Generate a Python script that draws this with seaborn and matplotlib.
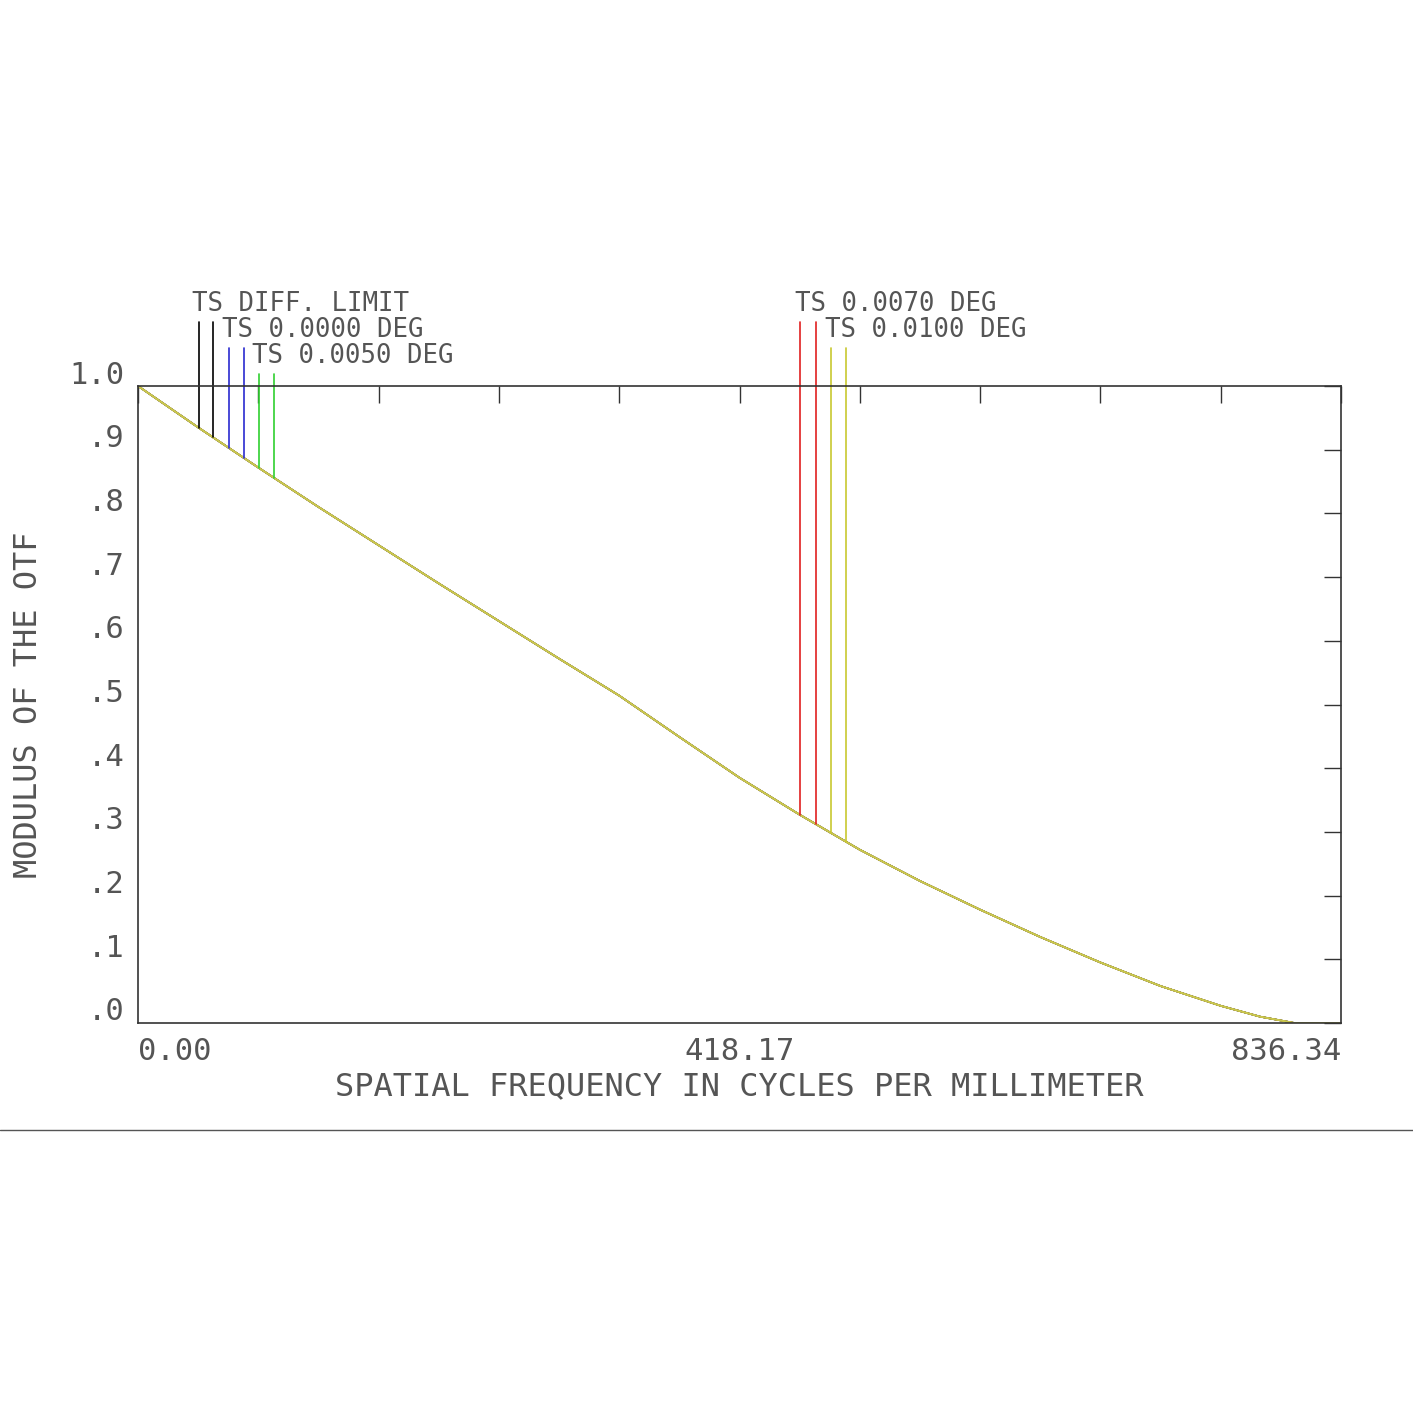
import numpy as np
import pandas as pd
import seaborn as sns
import matplotlib.pyplot as plt
import matplotlib.transforms as mtransforms
from matplotlib.lines import Line2D

# MTF curve (all fields overlap)
freq = [0.0, 41.8, 83.6, 125.5, 167.3, 209.1, 250.9, 292.7, 334.5, 376.4, 418.2,
        460.0, 501.8, 543.6, 585.4, 627.3, 669.1, 710.9, 752.7, 780.0, 804.0, 836.34]
mtf = [1.0, 0.935, 0.872, 0.810, 0.750, 0.690, 0.631, 0.572, 0.514, 0.449, 0.385,
       0.327, 0.272, 0.223, 0.178, 0.135, 0.095, 0.058, 0.027, 0.010, 0.0, 0.0]

series = ['DIFF', '0.0000', '0.0050', '0.0070', '0.0100']
colors = ['black', '#2b2bd0', '#30d030', '#e02020', '#c8c830']
# marker line pairs (frequency) for each series
markers = [(42.4, 52.1), (63.3, 73.7), (84.1, 94.5), (460.2, 471.4), (481.8, 492.3)]
marker_top = [1.100, 1.060, 1.019, 1.100, 1.060]

labels = ['TS DIFF. LIMIT', 'TS 0.0000 DEG', 'TS 0.0050 DEG', 'TS 0.0070 DEG', 'TS 0.0100 DEG']
label_x = [192, 222, 252, 795, 825]
label_y = [304, 330, 356, 304, 330]

sns.set_style('white')
plt.rcParams['font.family'] = ['DejaVu Sans Mono']
txt = '#555555'

fig = plt.figure(figsize=(14.13, 14.13), dpi=100)
ax = fig.add_axes([138 / 1413, 1 - 1023 / 1413, 1203 / 1413, 637 / 1413])

df = pd.DataFrame({'freq': freq, 'mtf': mtf})
for c in colors:
    sns.lineplot(data=df, x='freq', y='mtf', color=c, lw=1.2, ax=ax)
sns.lineplot(data=df, x='freq', y='mtf', color='#c8c850', lw=1.3, ax=ax)

for (f1, f2), top, c in zip(markers, marker_top, colors):
    for f in (f1, f2):
        ax.plot([f, f], [np.interp(f, freq, mtf), top], color=c, lw=1.2, clip_on=False)

for lab, lx, ly in zip(labels, label_x, label_y):
    fig.text(lx / 1413, 1 - ly / 1413, lab, fontsize=18.5, color=txt, va='center', ha='left')

ax.set_xlim(0, 836.34)
ax.set_ylim(0, 1.0)
ax.set_xticks(np.linspace(0, 836.34, 11))
ax.set_yticks(np.linspace(0, 1, 11))
ax.set_xticklabels(['0.00', '', '', '', '', '418.17', '', '', '', '', '836.34'])
ax.set_yticklabels(['.0', '.1', '.2', '.3', '.4', '.5', '.6', '.7', '.8', '.9', '1.0'])
xl = ax.get_xticklabels()
xl[0].set_ha('left')
xl[-1].set_ha('right')
ax.tick_params(direction='in', length=12, width=1, colors='#333333', labelcolor=txt,
               labelsize=22, top=True, right=True, pad=10)
shift = mtransforms.ScaledTranslation(0, 14 / 100, fig.dpi_scale_trans)
for t in ax.get_yticklabels():
    t.set_transform(t.get_transform() + shift)
for s in ax.spines.values():
    s.set_color('#333333')
    s.set_linewidth(1.2)
ax.set_xlabel('SPATIAL FREQUENCY IN CYCLES PER MILLIMETER', fontsize=23, color=txt, labelpad=4)
ax.set_ylabel('MODULUS OF THE OTF', fontsize=23, color=txt, labelpad=18)

fig.add_artist(Line2D([0, 1], [1 - 1130 / 1413] * 2, color='#555555', lw=1))

fig.savefig('out.png', dpi=100)
